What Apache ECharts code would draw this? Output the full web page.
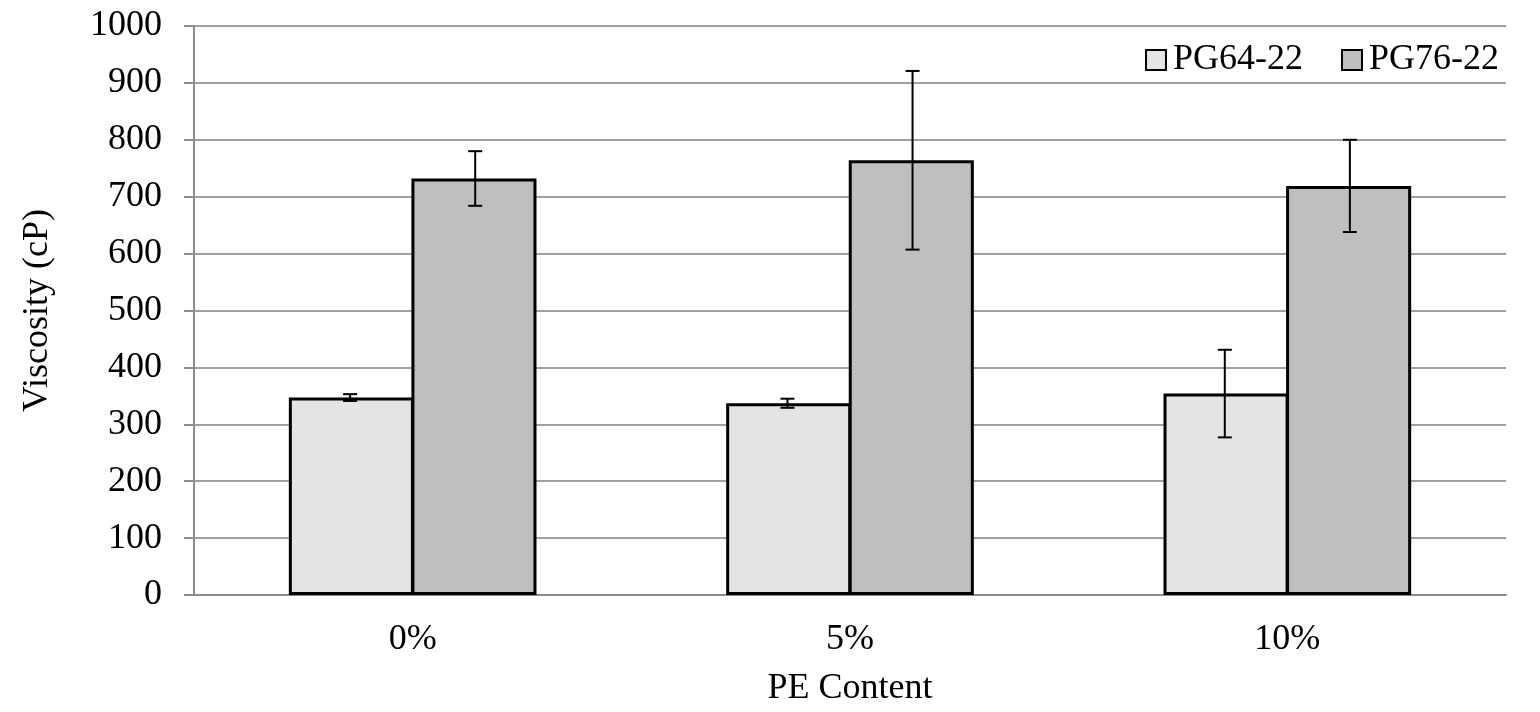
<!DOCTYPE html>
<html>
<head>
<meta charset="utf-8">
<script src="https://cdn.jsdelivr.net/npm/echarts@6/dist/echarts.min.js"></script>
<style>
html,body{margin:0;padding:0;background:#fff;}
#chart{width:1540px;height:712px;}
</style>
</head>
<body>
<div id="chart"></div>
<script>
const categories = ['0%', '5%', '10%'];
const seriesNames = ['PG64-22', 'PG76-22'];
const pg64 = [347, 337, 354];
const pg76 = [732, 764, 719];
const pg64Err = [6, 8, 77];
const pg76Err = [48, 157, 81];
const yTicks = [0, 100, 200, 300, 400, 500, 600, 700, 800, 900, 1000];

const FONT = '"Liberation Serif", "Times New Roman", serif';
const chart = echarts.init(document.getElementById('chart'));

const BAR_FRAC = 0.286;

function errData(vals, errs) {
  return vals.map((v, i) => [i, v - errs[i], v + errs[i]]);
}

function makeErrRender(side) {
  return function (params, api) {
    const idx = api.value(0);
    const lo = api.coord([idx, api.value(1)]);
    const hi = api.coord([idx, api.value(2)]);
    const band = api.size([1, 0])[0];
    const x = lo[0] + side * band * BAR_FRAC / 2;
    const cap = 7;
    const style = { stroke: '#000', lineWidth: 2 };
    return {
      type: 'group',
      children: [
        { type: 'line', shape: { x1: x, y1: lo[1], x2: x, y2: hi[1] }, style: style },
        { type: 'line', shape: { x1: x - cap, y1: lo[1], x2: x + cap, y2: lo[1] }, style: style },
        { type: 'line', shape: { x1: x - cap, y1: hi[1], x2: x + cap, y2: hi[1] }, style: style }
      ]
    };
  };
}

chart.setOption({
  backgroundColor: '#fff',
  animation: false,
  textStyle: { fontFamily: FONT },
  grid: { left: 194, right: 34, top: 26, bottom: 116 },
  legend: {
    data: seriesNames,
    top: 37,
    right: 36,
    icon: 'rect',
    itemWidth: 20,
    itemHeight: 20,
    itemGap: 38,
    textStyle: { fontFamily: FONT, fontSize: 36, color: '#000', padding: [0, 0, 0, 2] }
  },
  xAxis: {
    type: 'category',
    data: categories,
    name: 'PE Content',
    nameLocation: 'middle',
    nameGap: 76,
    nameTextStyle: { fontFamily: FONT, fontSize: 36, color: '#000' },
    axisLine: { show: true, lineStyle: { color: '#8c8c8c', width: 2 } },
    axisTick: { show: false },
    axisLabel: { fontFamily: FONT, fontSize: 36, color: '#000', margin: 27 },
    splitLine: { show: false }
  },
  yAxis: {
    type: 'value',
    min: yTicks[0],
    max: yTicks[yTicks.length - 1],
    interval: 100,
    name: 'Viscosity (cP)',
    nameLocation: 'middle',
    nameGap: 138,
    nameTextStyle: { fontFamily: FONT, fontSize: 36, color: '#000' },
    axisLine: { show: true, lineStyle: { color: '#8c8c8c', width: 2 } },
    axisTick: { show: true, length: 10, inside: false, lineStyle: { color: '#8c8c8c', width: 2 } },
    axisLabel: { fontFamily: FONT, fontSize: 36, color: '#000', margin: 32, formatter: v => String(v) },
    splitLine: { show: true, lineStyle: { color: '#a0a0a0', width: 2 } }
  },
  series: [
    {
      name: seriesNames[0],
      type: 'bar',
      data: pg64,
      barWidth: (BAR_FRAC * 100) + '%',
      barGap: '-2%',
      itemStyle: { color: '#e5e4e5', borderColor: '#000', borderWidth: 3 }
    },
    {
      name: seriesNames[1],
      type: 'bar',
      data: pg76,
      barWidth: (BAR_FRAC * 100) + '%',
      barGap: '-2%',
      itemStyle: { color: '#bfbfbf', borderColor: '#000', borderWidth: 3 }
    },
    {
      type: 'custom',
      name: 'err64',
      renderItem: makeErrRender(-1),
      data: errData(pg64, pg64Err),
      encode: { x: 0, y: [1, 2] },
      z: 10
    },
    {
      type: 'custom',
      name: 'err76',
      renderItem: makeErrRender(1),
      data: errData(pg76, pg76Err),
      encode: { x: 0, y: [1, 2] },
      z: 10
    }
  ]
});
</script>
</body>
</html>
